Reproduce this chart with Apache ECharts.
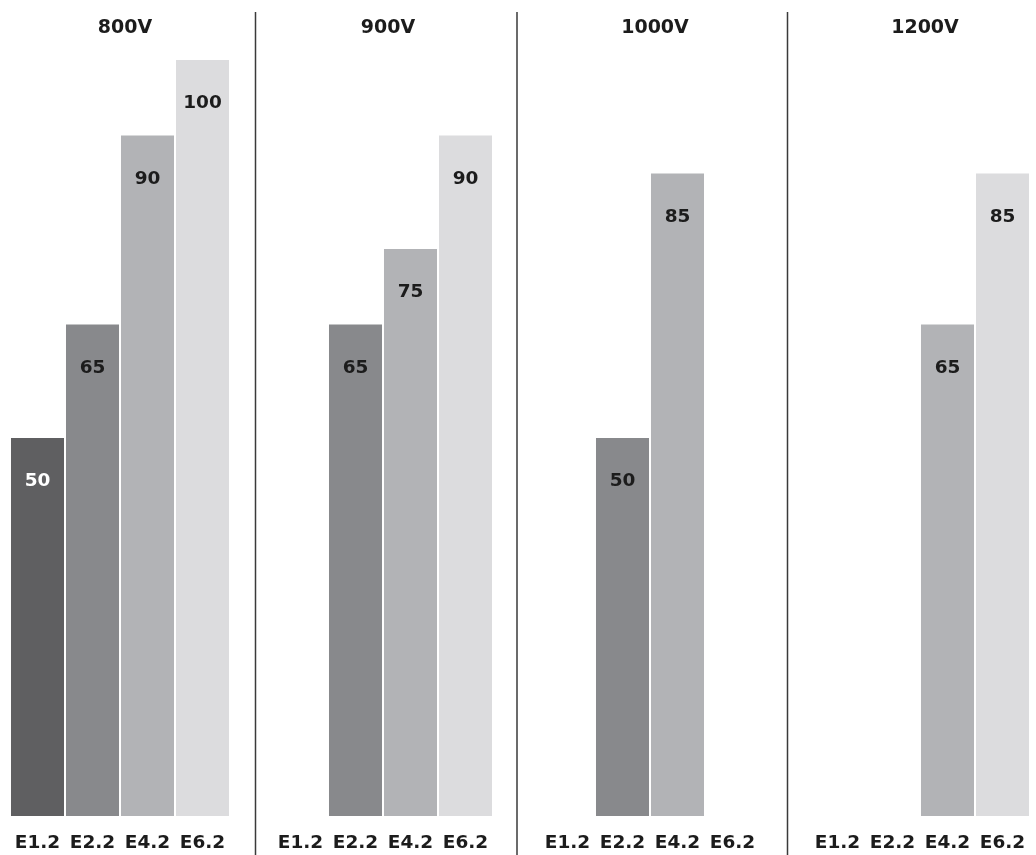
<!DOCTYPE html>
<html><head><meta charset="utf-8">
<script src="https://cdn.jsdelivr.net/npm/echarts@6/dist/echarts.min.js"></script>
<style>html,body{margin:0;padding:0;background:#fff}#c{width:1036px;height:855px}</style>
</head><body><div id="c"></div>
<script>
const categories = ['E1.2', 'E2.2', 'E4.2', 'E6.2'];
const panels = ['800V', '900V', '1000V', '1200V'];
const values800 = [50, 65, 90, 100];
const values900 = [null, 65, 75, 90];
const values1000 = [null, 50, 85, null];
const values1200 = [null, null, 65, 85];
const panelValues = [values800, values900, values1000, values1200];

const barColors = ['#5f5f61', '#88898c', '#b2b3b6', '#dcdcde'];
const labelColors = ['#ffffff', '#1c1c1c', '#1c1c1c', '#1c1c1c'];
const gridLefts = [10, 273, 540, 810];
const gridWidth = 220;
const sepX = [255.5, 517, 787.5];
const FONT = '"DejaVu Sans", Verdana, sans-serif';

const chart = echarts.init(document.getElementById('c'), null, {renderer: 'canvas'});
const option = {
  backgroundColor: '#fff',
  animation: false,
  title: panels.map((p, i) => ({
    text: p, left: gridLefts[i] + gridWidth / 2, top: 14, textAlign: 'center',
    textStyle: {fontFamily: FONT, fontWeight: 'bold', fontSize: 19, color: '#1c1c1c'}
  })),
  grid: gridLefts.map(l => ({left: l, width: gridWidth, top: 60, bottom: 39})),
  xAxis: panels.map((p, i) => ({
    type: 'category', gridIndex: i, data: categories,
    axisLine: {show: false}, axisTick: {show: false},
    axisLabel: {interval: 0, margin: 18, fontFamily: FONT, fontWeight: 'bold', fontSize: 18.5, color: '#1c1c1c'}
  })),
  yAxis: panels.map((p, i) => ({
    type: 'value', gridIndex: i, min: 0, max: 100, show: false, splitLine: {show: false}
  })),
  series: panels.map((p, i) => ({
    type: 'bar', xAxisIndex: i, yAxisIndex: i, barCategoryGap: '3.6%',
    data: panelValues[i].map((v, j) => ({
      value: v,
      itemStyle: {color: barColors[j]},
      label: {color: labelColors[j]}
    })),
    label: {show: true, position: 'insideTop', distance: 34, fontFamily: FONT, fontWeight: 'bold', fontSize: 18.5}
  })),
  graphic: sepX.map(x => ({
    type: 'line', shape: {x1: x, y1: 12, x2: x, y2: 855},
    style: {stroke: '#3a3a3a', lineWidth: 1.5}
  }))
};
chart.setOption(option);
</script></body></html>
